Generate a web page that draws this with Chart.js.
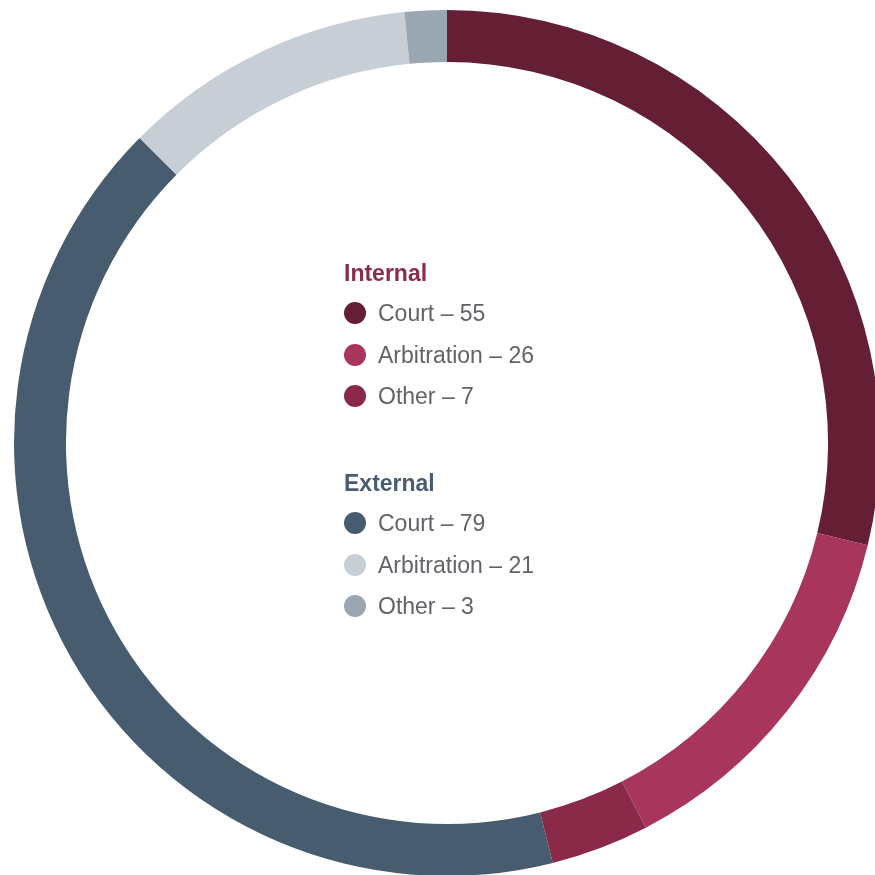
<!DOCTYPE html>
<html><head><meta charset="utf-8">
<script src="https://cdn.jsdelivr.net/npm/chart.js@4/dist/chart.umd.min.js"></script>
<style>
html,body{margin:0;padding:0;width:875px;height:875px;overflow:hidden;background:#fff;}
#wrap{position:absolute;left:14px;top:10px;width:866px;height:866px;}
#legend{position:absolute;left:0;top:0;font-family:"Liberation Sans",Arial,sans-serif;}
.grp{position:absolute;left:344px;font-weight:bold;font-size:23px;height:30px;line-height:30px;white-space:nowrap;}
.item{position:absolute;left:344px;height:30px;font-size:23px;color:#606368;line-height:30px;padding-left:34px;white-space:nowrap;}
.dot{position:absolute;left:0;top:4px;width:22px;height:22px;border-radius:50%;}
</style></head>
<body>
<div id="wrap"><canvas id="c" width="866" height="866"></canvas></div>
<div id="legend"></div>
<script>
const groups = ["Internal","External"];
const groupColors = ["#8c2a4b","#4a5d70"];
const labels = ["Court","Arbitration","Other","Court","Arbitration","Other"];
const groupOf = [0,0,0,1,1,1];
const values = [55,26,7,79,21,3];
const colors = ["#651f35","#a8355b","#8a2a48","#475c6e","#c7ced6","#9aa6b2"];

const lg = document.getElementById('legend');
const groupTop = [273, 483];
groups.forEach((g,gi)=>{
  const h=document.createElement('div');h.className='grp';h.textContent=g;h.style.color=groupColors[gi];
  h.style.top=(groupTop[gi]-15)+'px';
  lg.appendChild(h);
  let k=0;
  labels.forEach((l,i)=>{
    if(groupOf[i]!==gi) return;
    const it=document.createElement('div');it.className='item';
    it.style.top=(groupTop[gi]+40+k*41.5-15)+'px';
    const d=document.createElement('span');d.className='dot';d.style.background=colors[i];
    it.appendChild(d);it.appendChild(document.createTextNode(l+' \u2013 '+values[i]));
    lg.appendChild(it);k++;
  });
});

new Chart(document.getElementById('c'),{
  type:'doughnut',
  data:{labels:labels,datasets:[{data:values,backgroundColor:colors,borderWidth:0}]},
  options:{responsive:false,animation:false,cutout:'88%',rotation:0,
    layout:{padding:0},
    plugins:{legend:{display:false},tooltip:{enabled:false}}}
});
</script>
</body></html>
